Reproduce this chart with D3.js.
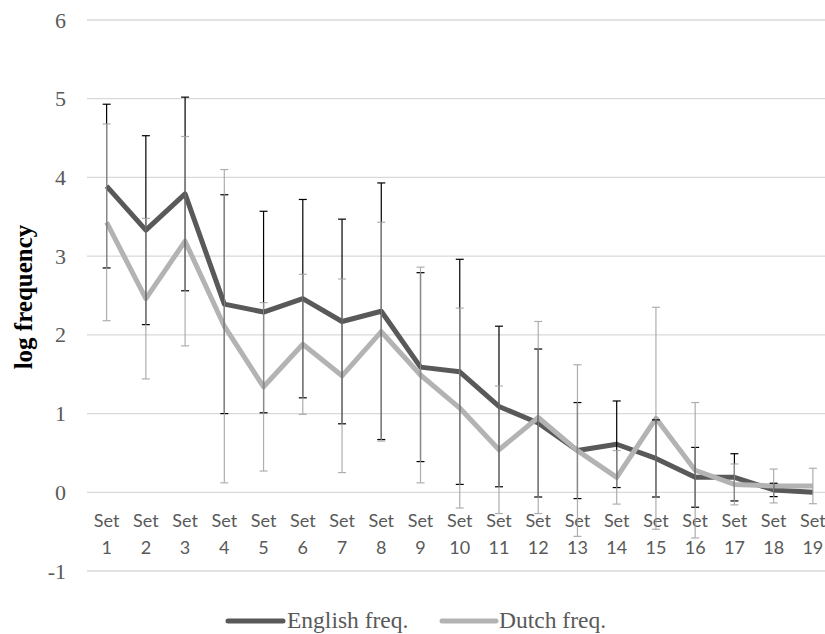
<!DOCTYPE html>
<html>
  <head>
    <meta charset="utf-8">
    <title>log frequency by set</title>
    <script src="https://d3js.org/d3.v7.min.js"></script>
    <style>
      body { margin: 0; background: #fff; }
      svg { display: block; }
    </style>
  </head>
  <body>
    <div id="chart"></div>
    <script>

      // data
      var sets = ["1","2","3","4","5","6","7","8","9","10","11","12","13","14","15","16","17","18","19"];
      var english = [3.89, 3.33, 3.79, 2.39, 2.29, 2.46, 2.17, 2.30, 1.59, 1.53, 1.09, 0.88, 0.53, 0.61, 0.43, 0.19, 0.19, 0.03, 0.00];
      var englishErr = [1.04, 1.20, 1.23, 1.39, 1.28, 1.26, 1.30, 1.63, 1.20, 1.43, 1.02, 0.94, 0.61, 0.55, 0.49, 0.38, 0.30, 0.085, 0];
      var dutch = [3.43, 2.46, 3.19, 2.11, 1.34, 1.88, 1.48, 2.04, 1.49, 1.07, 0.54, 0.95, 0.53, 0.19, 0.94, 0.28, 0.10, 0.08, 0.08];
      var dutchErr = [1.25, 1.02, 1.33, 1.99, 1.07, 0.89, 1.23, 1.39, 1.37, 1.27, 0.81, 1.22, 1.09, 0.34, 1.41, 0.86, 0.26, 0.215, 0.225];
      var yTicks = [-1, 0, 1, 2, 3, 4, 5, 6];
      var seriesNames = ["English freq.", "Dutch freq."];

      var width = 825, height = 634;
      var textColor = "#595959";
      var serif = "'Liberation Serif', 'Times New Roman', serif";

      var svg = d3.select("#chart").append("svg")
        .attr("width", width)
        .attr("height", height);

      var x = d3.scaleBand().domain(sets).range([87, 832.5]).padding(0);
      var y = d3.scaleLinear().domain([-1, 6]).range([571, 20]);
      var cx = function (s) { return x(s) + x.bandwidth() / 2; };

      // gridlines
      svg.append("g").selectAll("line").data(yTicks).enter().append("line")
        .attr("x1", 87).attr("x2", 832.5)
        .attr("y1", function (d) { return y(d); })
        .attr("y2", function (d) { return y(d); })
        .attr("stroke", "#d9d9d9")
        .attr("stroke-width", 1.3);

      // y axis labels
      var yAxis = d3.axisLeft(y).tickValues(yTicks).tickSize(0).tickPadding(0)
        .tickFormat(function (d) { return String(d); });
      var gy = svg.append("g")
        .attr("transform", "translate(66,0)")
        .call(yAxis)
        .attr("font-family", serif)
        .attr("font-size", 22);
      gy.select(".domain").remove();
      gy.selectAll("text").attr("fill", textColor);

      // y axis title
      svg.append("text")
        .attr("transform", "translate(32,297) rotate(-90)")
        .attr("text-anchor", "middle")
        .attr("font-family", serif)
        .attr("font-size", 25)
        .attr("font-weight", "bold")
        .attr("fill", "#000")
        .text("log frequency");

      // category labels (two lines each)
      var lab = svg.append("g")
        .attr("font-family", "Lato, 'Open Sans', sans-serif")
        .attr("font-size", 18)
        .attr("fill", textColor)
        .selectAll("text").data(sets).enter().append("text")
        .attr("text-anchor", "middle");
      lab.append("tspan").attr("x", function (d) { return cx(d); }).attr("y", 527).text("Set");
      lab.append("tspan").attr("x", function (d) { return cx(d); }).attr("y", 554).text(function (d) { return d; });

      // lines
      var line = d3.line()
        .x(function (d, i) { return cx(sets[i]); })
        .y(function (d) { return y(d); });

      svg.append("path").datum(english)
        .attr("d", line)
        .attr("fill", "none")
        .attr("stroke", "#595959")
        .attr("stroke-width", 5)
        .attr("stroke-linejoin", "round");

      svg.append("path").datum(dutch)
        .attr("d", line)
        .attr("fill", "none")
        .attr("stroke", "#b3b3b3")
        .attr("stroke-width", 5)
        .attr("stroke-linejoin", "round");

      // error bars (mean +/- err), skipping zero-length ones
      function errorBars(values, errs, color, opacity) {
        var data = values.map(function (v, i) { return { s: sets[i], v: v, e: errs[i] }; })
          .filter(function (d) { return d.e > 0; });
        var g = svg.append("g").attr("stroke", color).attr("stroke-width", 1.2).attr("opacity", opacity);
        var bars = g.selectAll("g").data(data).enter().append("g");
        bars.append("line")
          .attr("x1", function (d) { return cx(d.s); })
          .attr("x2", function (d) { return cx(d.s); })
          .attr("y1", function (d) { return y(d.v + d.e); })
          .attr("y2", function (d) { return y(d.v - d.e); });
        [1, -1].forEach(function (sgn) {
          bars.append("line")
            .attr("x1", function (d) { return cx(d.s) - 4; })
            .attr("x2", function (d) { return cx(d.s) + 4; })
            .attr("y1", function (d) { return y(d.v + sgn * d.e); })
            .attr("y2", function (d) { return y(d.v + sgn * d.e); });
        });
      }
      errorBars(english, englishErr, "#000", 1);
      errorBars(dutch, dutchErr, "#a1a1a1", 0.85);

      // legend
      var legend = svg.append("g");
      var legendItems = [
        { name: seriesNames[0], color: "#595959", x1: 228, x2: 283, tx: 287 },
        { name: seriesNames[1], color: "#b3b3b3", x1: 442, x2: 496, tx: 499 }
      ];
      legendItems.forEach(function (d) {
        legend.append("line")
          .attr("x1", d.x1).attr("x2", d.x2)
          .attr("y1", 621).attr("y2", 621)
          .attr("stroke", d.color)
          .attr("stroke-width", 5)
          .attr("stroke-linecap", "round");
        legend.append("text")
          .attr("x", d.tx).attr("y", 628)
          .attr("font-family", serif)
          .attr("font-size", 23.5)
          .attr("fill", textColor)
          .text(d.name);
      });

    </script>
  </body>
</html>
